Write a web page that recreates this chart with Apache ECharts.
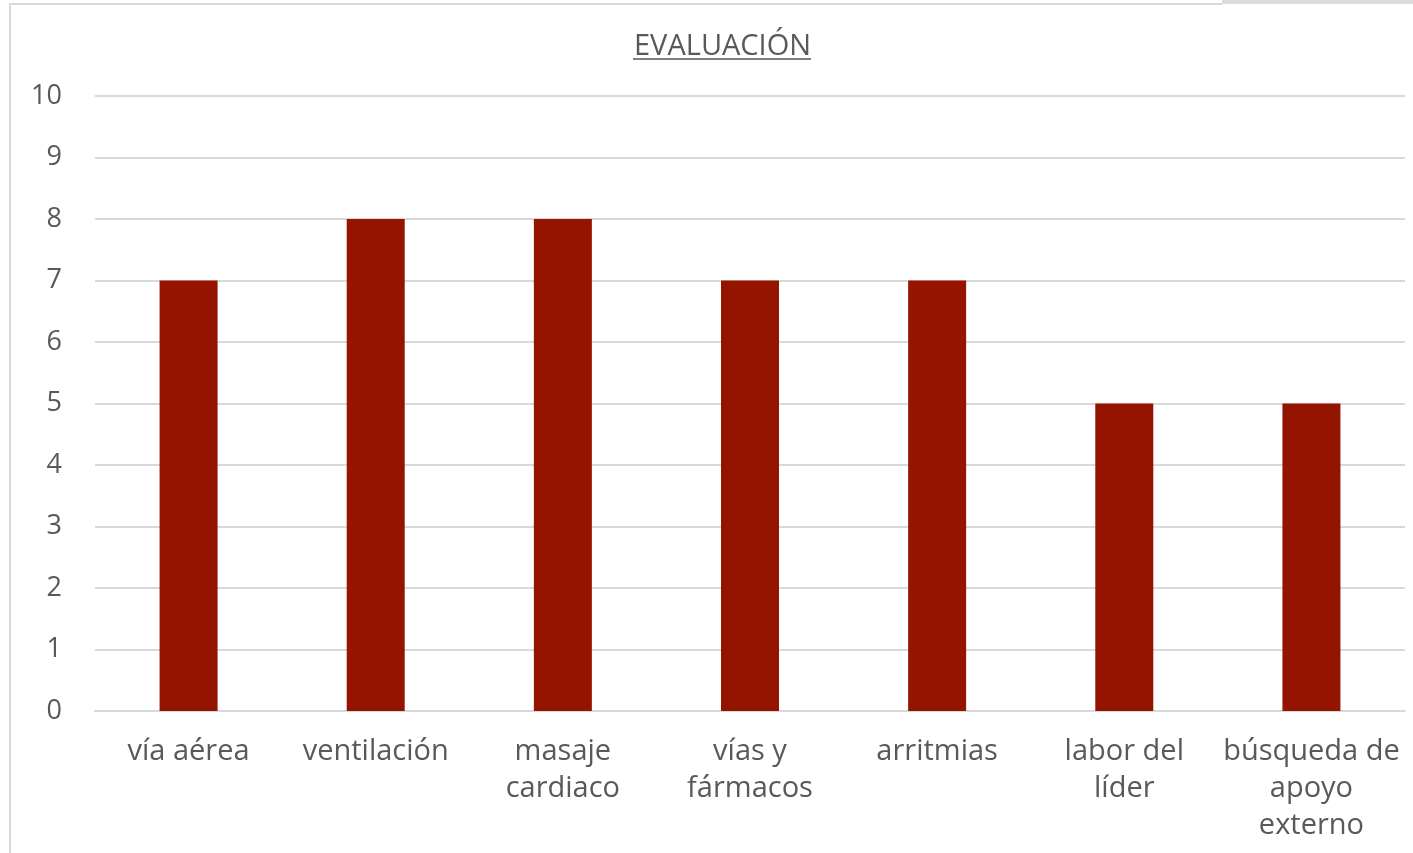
<!DOCTYPE html>
<html>
<head>
<meta charset="utf-8">
<script src="https://cdn.jsdelivr.net/npm/echarts@6/dist/echarts.min.js"></script>
<style>
  html, body { margin: 0; padding: 0; background: #fff; }
  #chart { width: 1413px; height: 853px; }
</style>
</head>
<body>
<div id="chart"></div>
<script>
// categorias del eje x
var categorias = ['vía aérea', 'ventilación', 'masaje\ncardiaco', 'vías y\nfármacos', 'arritmias', 'labor del\nlíder', 'búsqueda de\napoyo\nexterno']
// valores de la evaluacion
var valores = [7, 8, 8, 7, 7, 5, 5]

var chart = echarts.init(document.getElementById('chart'))
chart.setOption({
  animation: false,
  textStyle: { fontFamily: 'Open Sans' },
  title: {
    text: 'EVALUACIÓN',
    left: 634,
    top: 32,
    padding: 0,
    textStyle: { color: '#595959', fontSize: 29, fontWeight: 'normal', fontFamily: 'Open Sans' }
  },
  graphic: [
    // marco del grafico
    { type: 'polyline', shape: { points: [[10, 853], [10, 4], [1222, 4]] }, style: { stroke: '#d9d9d9', lineWidth: 2, fill: null } },
    { type: 'rect', shape: { x: 1222, y: 0, width: 191, height: 4 }, style: { fill: '#dcdcdc' } },
    // subrayado del titulo
    { type: 'rect', shape: { x: 633, y: 58, width: 178, height: 2 }, style: { fill: '#7f7f7f' } }
  ],
  grid: { left: 95, right: 8, top: 96, bottom: 142 },
  xAxis: {
    type: 'category',
    data: categorias,
    axisLine: { lineStyle: { color: '#d9d9d9', width: 2 } },
    axisTick: { show: false },
    axisLabel: { color: '#595959', fontSize: 29, lineHeight: 37, margin: 22, interval: 0 }
  },
  yAxis: {
    type: 'value',
    min: 0,
    max: 10,
    interval: 1,
    axisLine: { show: false },
    axisTick: { show: false },
    splitLine: { lineStyle: { color: '#d9d9d9', width: 2 } },
    axisLabel: { color: '#595959', fontSize: 27, margin: 33 }
  },
  series: [
    {
      type: 'bar',
      data: valores,
      barWidth: 58,
      itemStyle: { color: '#941400' }
    }
  ]
})
</script>
</body>
</html>
